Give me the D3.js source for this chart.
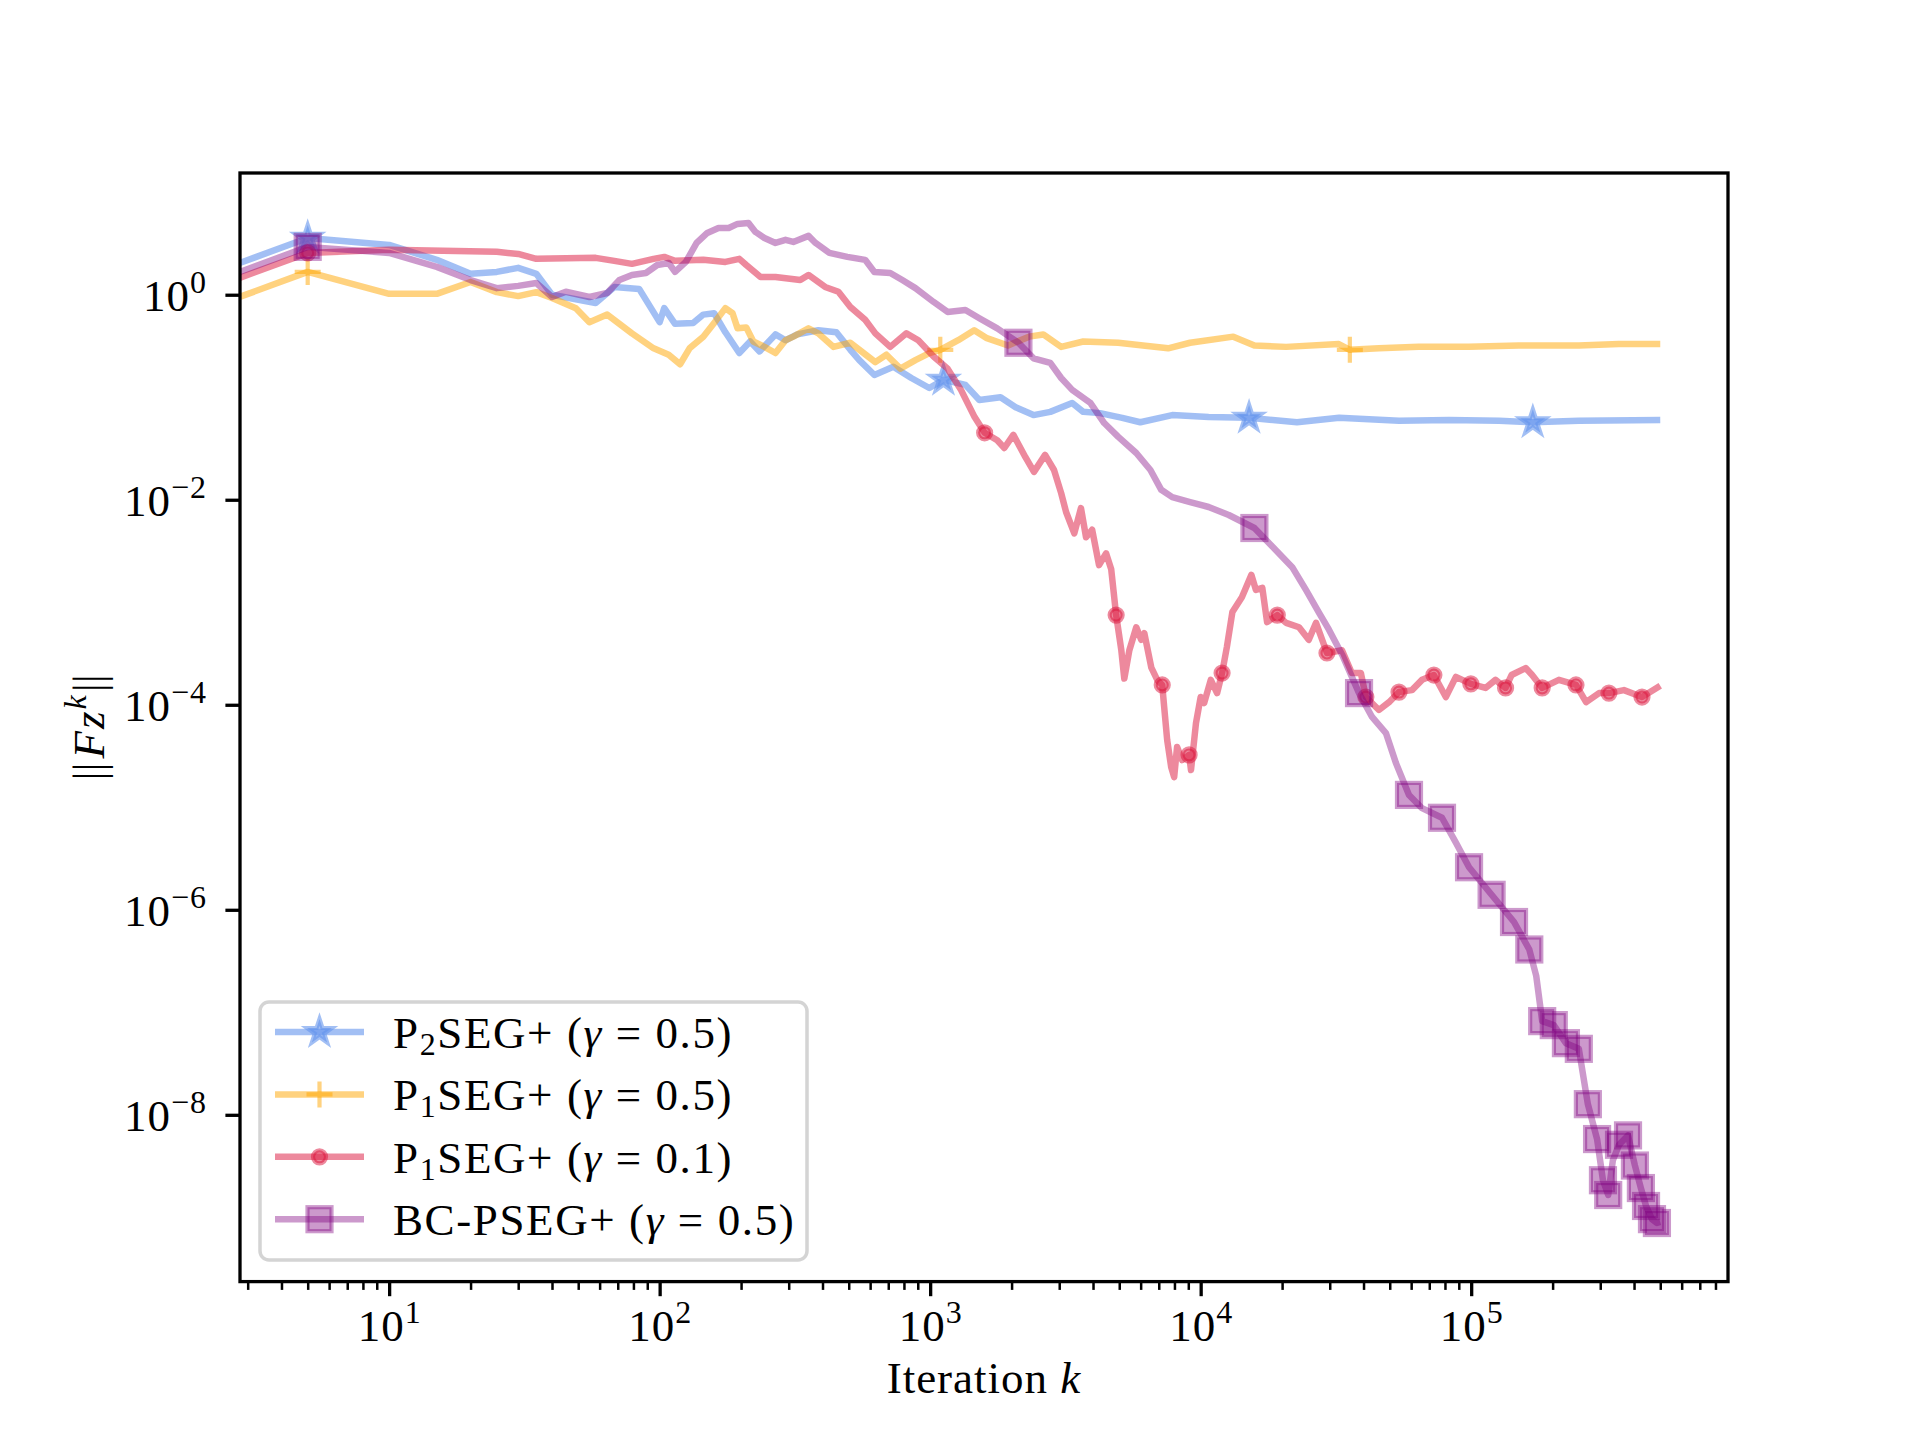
<!DOCTYPE html>
<html>
<head>
<meta charset="utf-8">
<script src="https://cdn.jsdelivr.net/npm/d3@7"></script>
<style>
  body { margin: 0; background: #fff; }
  svg { display: block; }
  text { font-family: "Liberation Serif", "DejaVu Serif", serif; fill: #000; letter-spacing: 1px; }
</style>
</head>
<body>
<svg id="chart" width="1920" height="1440"></svg>
<script>
// ---- data (iteration k, residual norm) ----
const blueK = [1, 5, 10, 15, 20, 25, 30, 35, 40, 58, 68, 84, 100, 104, 114, 133, 145, 159, 175, 197,
  216, 234, 268, 292, 323, 386, 450, 507, 547, 622, 731, 852, 993, 1120, 1350, 1520, 1820, 2070, 2410,
  2780, 3350, 3680, 4250, 5130, 5980, 7850, 10700, 15100, 22700, 32500, 54100, 82800, 127000, 169000,
  250000, 500000];
const blueV = [0.75, 3.58, 3.06, 2.19, 1.60, 1.67, 1.83, 1.60, 1.0, 0.83, 1.19, 1.14, 0.54, 0.74, 0.52,
  0.53, 0.64, 0.66, 0.43, 0.27, 0.35, 0.28, 0.41, 0.36, 0.41, 0.45, 0.43, 0.29, 0.23, 0.165, 0.198,
  0.154, 0.123, 0.148, 0.132, 0.094, 0.10, 0.080, 0.067, 0.072, 0.088, 0.072, 0.070, 0.063, 0.057,
  0.067, 0.064, 0.063, 0.057, 0.063, 0.059, 0.060, 0.059, 0.057, 0.059, 0.060];
const blueMarks = [5, 1120, 15100, 169000];

const orangeK = [1, 5, 10, 15, 20, 25, 30, 35, 40, 49, 55, 64, 79, 95, 108, 119, 129, 145, 159, 175,
  186, 194, 209, 222, 244, 268, 292, 312, 355, 386, 439, 507, 557, 627, 689, 776, 882, 993, 1090, 1270,
  1455, 1610, 1940, 2320, 2620, 3050, 3680, 4960, 6120, 7580, 9140, 13200, 15800, 20700, 32400, 35600,
  45600, 64000, 98000, 150000, 250000, 351000, 500000];
const orangeV = [0.35, 1.67, 1.02, 1.02, 1.33, 1.06, 0.97, 1.06, 0.93, 0.74, 0.54, 0.64, 0.42, 0.30,
  0.26, 0.21, 0.30, 0.39, 0.53, 0.74, 0.66, 0.47, 0.48, 0.35, 0.31, 0.27, 0.36, 0.39, 0.47, 0.42, 0.31,
  0.34, 0.28, 0.22, 0.26, 0.19, 0.23, 0.27, 0.29, 0.36, 0.45, 0.38, 0.32, 0.39, 0.41, 0.31, 0.35, 0.34,
  0.32, 0.30, 0.34, 0.39, 0.32, 0.31, 0.33, 0.29, 0.30, 0.31, 0.31, 0.32, 0.32, 0.33, 0.33];
const orangeMarks = [5, 1090, 35600];

const redK = [1, 5, 10, 25, 30, 35, 58, 68, 79, 95, 104, 114, 145, 175, 197, 209, 236, 268, 331, 355,
  409, 458, 507, 575, 627, 712, 817, 904, 1030, 1160, 1300, 1460, 1590, 1770, 1880, 2030, 2250, 2420,
  2660, 2870, 3050, 3180, 3410, 3610, 3770, 3970, 4210, 4470, 4670, 4870, 5090, 5220, 5450, 5780, 6030,
  6190, 6570, 6910, 7210, 7330, 7520, 7780, 7980, 8180, 8540, 9060, 9210, 9610, 10000, 10300, 10900,
  11500, 12000, 12500, 13100, 14200, 15400, 16000, 16900, 17600, 19200, 20700, 23100, 25100, 26700,
  29300, 33300, 36200, 39100, 40800, 45600, 49700, 54100, 60400, 65800, 72800, 80600, 87800, 99700,
  113000, 123000, 134000, 141000, 159000, 168000, 183000, 211000, 244000, 266000, 297000, 323000,
  367000, 428000, 500000];
const redV = [0.54, 2.56, 2.74, 2.62, 2.50, 2.24, 2.29, 2.14, 2.00, 2.24, 2.34, 2.14, 2.19, 2.09, 2.24,
  1.95, 1.49, 1.49, 1.39, 1.56, 1.19, 1.07, 0.76, 0.57, 0.42, 0.31, 0.42, 0.36, 0.25, 0.19, 0.118,
  0.064, 0.045, 0.038, 0.032, 0.043, 0.026, 0.0187, 0.0274, 0.0195, 0.0116, 0.0076, 0.0047, 0.0083,
  0.0043, 0.0051, 0.0023, 0.0030, 0.0021, 0.00075, 0.00034, 0.00018, 0.00034, 0.00057, 0.00043,
  0.00050, 0.00023, 0.000175, 0.000156, 0.000095, 0.0000453, 0.0000247, 0.0000197, 0.0000387,
  0.0000289, 0.0000324, 0.0000231, 0.0000664, 0.000119, 0.000104, 0.000175, 0.000130, 0.000204,
  0.000366, 0.000804, 0.00112, 0.00185, 0.00132, 0.00138, 0.00064, 0.00075, 0.00063, 0.00057, 0.00043,
  0.00063, 0.00032, 0.00034, 0.000204, 0.000204, 0.000119, 0.000089, 0.000106, 0.000133, 0.000139,
  0.000175, 0.000195, 0.000119, 0.000187, 0.000160, 0.000146, 0.000175, 0.000146, 0.000195, 0.000228,
  0.000195, 0.000146, 0.000175, 0.000156, 0.000106, 0.000130, 0.000130, 0.000139, 0.000119, 0.000153];
const redMarks = [5, 1590, 4870, 7210, 9060, 12000, 19200, 29300, 40800, 54100, 72800, 99700, 134000,
  183000, 244000, 323000, 428000];

const purpleK = [1, 5, 10, 15, 20, 25, 30, 35, 40, 45, 55, 64, 71, 79, 89, 98, 108, 114, 125, 137, 150,
  165, 180, 194, 213, 226, 244, 268, 292, 312, 355, 377, 424, 494, 575, 622, 712, 789, 882, 1030, 1160,
  1350, 1520, 1770, 2120, 2410, 2780, 3050, 3350, 3910, 4400, 4960, 5780, 6520, 7150, 7850, 9140, 10700,
  12700, 15800, 18400, 21800, 24500, 27400, 29800, 33300, 38500, 43000, 48400, 52700, 58900, 65800,
  78000, 87900, 98200, 119000, 144000, 164000, 174000, 183000, 202000, 224000, 250000, 270000, 292000,
  307000, 321000, 334000, 352000, 380000, 403000, 424000, 443000, 466000, 486000, 500000];
const purpleV = [0.61, 2.93, 2.56, 1.87, 1.39, 1.16, 1.22, 1.30, 0.95, 1.07, 0.95, 1.04, 1.39, 1.56,
  1.63, 1.95, 2.04, 1.67, 2.09, 3.20, 4.01, 4.48, 4.48, 4.91, 5.02, 4.10, 3.58, 3.20, 3.43, 3.27, 3.75,
  3.20, 2.56, 2.34, 2.19, 1.67, 1.63, 1.39, 1.16, 0.85, 0.68, 0.71, 0.59, 0.47, 0.34, 0.24, 0.216, 0.154,
  0.118, 0.088, 0.056, 0.041, 0.0286, 0.0195, 0.0125, 0.0106, 0.0095, 0.0085, 0.0071, 0.0053, 0.0035,
  0.0022, 0.00132, 0.00079, 0.00054, 0.00031, 0.00013, 0.000076, 0.000053, 0.000027, 0.0000132,
  0.0000098, 0.0000079, 0.0000045, 0.0000026, 0.0000014, 7.6e-7, 4.1e-7, 2.26e-7, 8.2e-8, 7.5e-8,
  5.0e-8, 4.4e-8, 1.27e-8, 5.8e-9, 2.3e-9, 1.65e-9, 3.6e-9, 5.1e-9, 6.3e-9, 3.2e-9, 1.93e-9, 1.29e-9,
  9.6e-10, 8.8e-10, 9.0e-10];
const purpleMarks = [5, 2120, 15800, 38500, 58900, 78000, 98200, 119000, 144000, 164000, 183000, 202000,
  224000, 250000, 270000, 292000, 307000, 321000, 352000, 380000, 403000, 424000, 443000, 466000, 486000];

// axis ticks
const xMajor = [1e1, 1e2, 1e3, 1e4, 1e5];
const xMinor = [3, 4, 5, 6, 7, 8, 9, 20, 30, 40, 50, 60, 70, 80, 90, 200, 300, 400, 500, 600, 700, 800, 900,
  2000, 3000, 4000, 5000, 6000, 7000, 8000, 9000, 2e4, 3e4, 4e4, 5e4, 6e4, 7e4, 8e4, 9e4,
  2e5, 3e5, 4e5, 5e5, 6e5, 7e5, 8e5];
const yMajor = [1e0, 1e-2, 1e-4, 1e-6, 1e-8];

// ---- layout ----
const svg = d3.select('#chart');
const axL = 240, axR = 1728, axT = 173, axB = 1281.6;
const FS = 45;     // main text size
const FSS = 32;    // super/subscripts

const x = d3.scaleLog().domain([2.81, 8.9e5]).range([axL, axR]);
const y = d3.scaleLog().domain([2.36e-10, 15.4]).range([axB, axT]);

const series = [
  { k: blueK, v: blueV, marks: blueMarks, color: '#6495ed', alpha: 0.6, marker: 'star',
    label: [['P'], ['2', 'sub'], ['SEG+ ('], ['γ', 'it'], [' = 0.5)']] },
  { k: orangeK, v: orangeV, marks: orangeMarks, color: '#ffa500', alpha: 0.5, marker: 'plus',
    label: [['P'], ['1', 'sub'], ['SEG+ ('], ['γ', 'it'], [' = 0.5)']] },
  { k: redK, v: redV, marks: redMarks, color: '#dc143c', alpha: 0.5, marker: 'dot',
    label: [['P'], ['1', 'sub'], ['SEG+ ('], ['γ', 'it'], [' = 0.1)']] },
  { k: purpleK, v: purpleV, marks: purpleMarks, color: '#800080', alpha: 0.4, marker: 'square',
    label: [['BC-PSEG+ ('], ['γ', 'it'], [' = 0.5)']] }
];

svg.append('defs').append('clipPath').attr('id', 'plot-clip')
  .append('rect').attr('x', axL).attr('y', axT)
  .attr('width', axR - axL).attr('height', axB - axT);

function drawMarker(g, type, cx, cy, color, alpha) {
  const ew = 4.2;
  if (type === 'plus') {
    g.append('path')
      .attr('d', `M${cx - 13},${cy}H${cx + 13}M${cx},${cy - 13}V${cy + 13}`)
      .attr('stroke', color).attr('stroke-opacity', alpha).attr('stroke-width', ew).attr('fill', 'none');
    return;
  }
  let sel;
  if (type === 'star') {
    sel = g.append('path')
      .attr('d', d3.symbol().type(d3.symbolStar).size(190)())
      .attr('transform', `translate(${cx},${cy})`);
  } else if (type === 'dot') {
    sel = g.append('circle').attr('cx', cx).attr('cy', cy).attr('r', 6.5);
  } else {
    sel = g.append('rect').attr('x', cx - 12).attr('y', cy - 12).attr('width', 24).attr('height', 24);
  }
  sel.attr('fill', color).attr('fill-opacity', alpha)
    .attr('stroke', color).attr('stroke-opacity', alpha).attr('stroke-width', ew)
    .attr('stroke-linejoin', 'miter');
}

// ---- lines and markers ----
const line = d3.line().x(d => x(d.k)).y(d => y(d.v));
const plot = svg.append('g').attr('clip-path', 'url(#plot-clip)');

series.forEach(s => {
  const pts = s.k.map((k, i) => ({ k: k, v: s.v[i] }));
  plot.append('path')
    .datum(pts)
    .attr('d', line)
    .attr('fill', 'none')
    .attr('stroke', s.color)
    .attr('stroke-opacity', s.alpha)
    .attr('stroke-width', 6.5)
    .attr('stroke-linejoin', 'round');
  const mg = plot.append('g');
  s.marks.forEach(m => {
    const p = pts.find(d => d.k === m);
    if (p) drawMarker(mg, s.marker, x(p.k), y(p.v), s.color, s.alpha);
  });
});

// ---- axes ----
function supLabel(sel, d) {
  const e = Math.round(Math.log10(d));
  sel.text(null);
  sel.append('tspan').text('10');
  sel.append('tspan').attr('dy', -18).attr('font-size', FSS).text(String(e).replace('-', '−'));
}

const gxMinor = svg.append('g').attr('transform', `translate(0,${axB})`)
  .call(d3.axisBottom(x).tickValues(xMinor).tickSize(8.3).tickFormat(''));
gxMinor.select('.domain').remove();
gxMinor.selectAll('.tick line').attr('stroke', '#000').attr('stroke-width', 2.5);
gxMinor.selectAll('.tick text').remove();

const gx = svg.append('g').attr('transform', `translate(0,${axB})`)
  .call(d3.axisBottom(x).tickValues(xMajor).tickSize(14.6).tickFormat(''));
gx.select('.domain').remove();
gx.attr('font-family', null).attr('font-size', null);
gx.selectAll('.tick line').attr('stroke', '#000').attr('stroke-width', 3.3);
gx.selectAll('.tick text')
  .attr('y', 59).attr('dy', null).attr('font-size', FS).attr('text-anchor', 'middle')
  .each(function (d) { supLabel(d3.select(this), d); });

const gy = svg.append('g').attr('transform', `translate(${axL},0)`)
  .call(d3.axisLeft(y).tickValues(yMajor).tickSize(14.6).tickFormat(''));
gy.select('.domain').remove();
gy.attr('font-family', null).attr('font-size', null);
gy.selectAll('.tick line').attr('stroke', '#000').attr('stroke-width', 3.3);
gy.selectAll('.tick text')
  .attr('x', -33).attr('dy', 16).attr('font-size', FS).attr('text-anchor', 'end')
  .each(function (d) { supLabel(d3.select(this), d); });

// frame
svg.append('rect')
  .attr('x', axL).attr('y', axT)
  .attr('width', axR - axL).attr('height', axB - axT)
  .attr('fill', 'none').attr('stroke', '#000').attr('stroke-width', 3.3);

// axis labels
const xl = svg.append('text')
  .attr('x', (axL + axR) / 2).attr('y', 1393)
  .attr('text-anchor', 'middle').attr('font-size', FS);
xl.append('tspan').text('Iteration ');
xl.append('tspan').attr('font-style', 'italic').text('k');

const yl = svg.append('text')
  .attr('transform', `translate(104,${(axT + axB) / 2}) rotate(-90)`)
  .attr('text-anchor', 'middle').attr('font-size', FS).style('letter-spacing', '0px');
yl.append('tspan').text('||');
yl.append('tspan').attr('font-style', 'italic').attr('dx', 4).text('F');
yl.append('tspan').attr('font-style', 'italic').attr('dx', 2).text('z');
yl.append('tspan').attr('font-style', 'italic').attr('font-size', FSS).attr('dy', -18).attr('dx', 2).text('k');
yl.append('tspan').attr('dy', 18).attr('dx', 3).text('||');

// ---- legend ----
const lg = svg.append('g');
lg.append('rect')
  .attr('x', 260).attr('y', 1002).attr('width', 547).attr('height', 258).attr('rx', 9)
  .attr('fill', '#fff').attr('fill-opacity', 0.8)
  .attr('stroke', '#d4d4d4').attr('stroke-width', 3.5);

series.forEach((s, i) => {
  const ry = 1032 + i * 62.4;
  lg.append('line')
    .attr('x1', 275).attr('x2', 364).attr('y1', ry).attr('y2', ry)
    .attr('stroke', s.color).attr('stroke-opacity', s.alpha).attr('stroke-width', 6.5);
  drawMarker(lg, s.marker, 319.5, ry, s.color, s.alpha);
  const t = lg.append('text').attr('x', 393).attr('y', ry + 16).attr('font-size', FS)
    .style('white-space', 'pre').style('letter-spacing', '1.6px');
  let shifted = false;
  s.label.forEach(([str, kind]) => {
    const ts = t.append('tspan').text(str);
    if (kind === 'sub') { ts.attr('font-size', FSS).attr('dy', 7); shifted = true; return; }
    if (shifted) { ts.attr('dy', -7); shifted = false; }
    if (kind === 'it') ts.attr('font-style', 'italic');
  });
});
</script>
</body>
</html>
